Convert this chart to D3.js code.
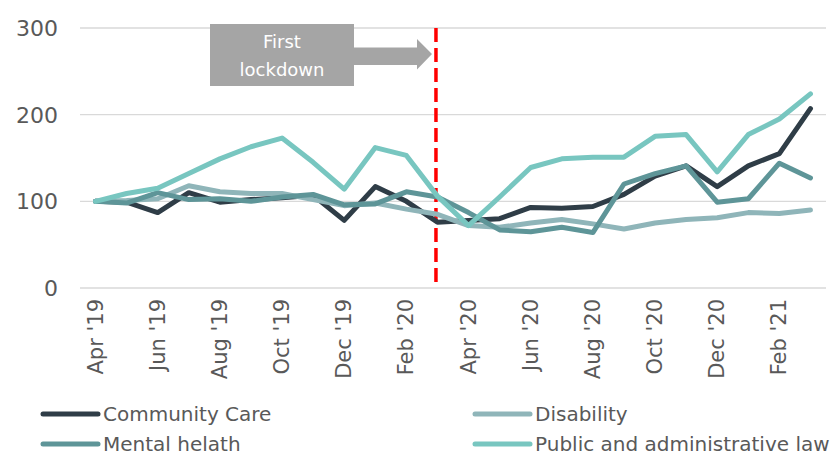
<!DOCTYPE html>
<html>
<head>
  <meta charset="utf-8">
  <script src="https://d3js.org/d3.v7.min.js"></script>
  <style>
    body { margin: 0; background: #fff; }
    text { font-family: "DejaVu Sans", sans-serif; fill: #595959; }
  </style>
</head>
<body>
  <svg width="837" height="455"></svg>
  <script>
    // months Apr '19 .. Mar '21
    var months = ["Apr '19","May '19","Jun '19","Jul '19","Aug '19","Sep '19","Oct '19","Nov '19","Dec '19","Jan '20","Feb '20","Mar '20",
                  "Apr '20","May '20","Jun '20","Jul '20","Aug '20","Sep '20","Oct '20","Nov '20","Dec '20","Jan '21","Feb '21","Mar '21"];
    var communityCare = [100, 99, 87, 110, 99, 102, 104, 107, 78, 117, 100, 76, 78, 80, 93, 92, 94, 108, 129, 141, 117, 141, 155, 207];
    var disability    = [100, 101, 103, 118, 111, 109, 109, 102, 95, 98, 91, 85, 72, 70, 75, 79, 74, 68, 75, 79, 81, 87, 86, 90];
    var mentalHealth  = [100, 98, 110, 102, 103, 100, 105, 108, 96, 97, 111, 105, 87, 67, 65, 70, 64, 120, 132, 141, 99, 103, 144, 127];
    var publicLaw     = [100, 109, 115, 132, 149, 163, 173, 145, 114, 162, 153, 106, 72, 105, 139, 149, 151, 151, 175, 177, 134, 177, 195, 224];
    var yTicks = [0, 100, 200, 300];
    var lockdownMonth = "Mar '20";

    var series = [
      { name: "Community Care", values: communityCare, color: "#2f3d47" },
      { name: "Disability", values: disability, color: "#8fb5b9" },
      { name: "Mental helath", values: mentalHealth, color: "#5e9598" },
      { name: "Public and administrative law", values: publicLaw, color: "#78c6c0" }
    ];

    var svg = d3.select("svg");
    var plotL = 80, plotR = 826, plotT = 28, plotB = 288;

    var x = d3.scaleBand().domain(months).range([plotL, plotR]);
    var cx = function(m) { return x(m) + x.bandwidth() / 2; };
    var y = d3.scaleLinear().domain([0, 300]).range([plotB, plotT]);

    // gridlines
    svg.append("g")
      .selectAll("line")
      .data(yTicks)
      .enter().append("line")
      .attr("x1", plotL).attr("x2", plotR)
      .attr("y1", function(d) { return y(d); })
      .attr("y2", function(d) { return y(d); })
      .attr("stroke", "#d9d9d9")
      .attr("stroke-width", 1.3);

    // y labels
    svg.append("g")
      .selectAll("text")
      .data(yTicks)
      .enter().append("text")
      .attr("x", 58)
      .attr("y", function(d) { return y(d) + 8; })
      .attr("text-anchor", "end")
      .style("font-size", "22px")
      .text(function(d) { return d; });

    // x labels, every second month
    svg.append("g")
      .selectAll("text")
      .data(months.filter(function(d, i) { return i % 2 === 0; }))
      .enter().append("text")
      .attr("transform", function(d) { return "translate(" + (cx(d) + 7) + ",299) rotate(-90)"; })
      .attr("text-anchor", "end")
      .style("font-size", "21px")
      .text(function(d) { return d; });

    // lockdown marker
    var lx = cx(lockdownMonth) - 1.5;
    svg.append("line")
      .attr("x1", lx).attr("x2", lx)
      .attr("y1", plotT).attr("y2", plotB)
      .attr("stroke", "#ff0000")
      .attr("stroke-width", 3.5)
      .attr("stroke-dasharray", "14,6");

    var note = svg.append("g");
    note.append("rect")
      .attr("x", 210).attr("y", 24).attr("width", 144).attr("height", 62)
      .attr("fill", "#a5a5a5");
    note.append("path")
      .attr("d", "M354,47.5 L417,47.5 L417,39 L432,54 L417,69.5 L417,65 L354,65 Z")
      .attr("fill", "#a5a5a5");
    note.append("text")
      .attr("x", 282).attr("y", 48)
      .attr("text-anchor", "middle")
      .style("font-size", "18px").style("fill", "#fff")
      .text("First");
    note.append("text")
      .attr("x", 282).attr("y", 76)
      .attr("text-anchor", "middle")
      .style("font-size", "18px").style("fill", "#fff")
      .text("lockdown");

    // lines
    var line = d3.line()
      .x(function(d, i) { return cx(months[i]); })
      .y(function(d) { return y(d); });

    svg.append("g")
      .selectAll("path")
      .data(series)
      .enter().append("path")
      .attr("d", function(d) { return line(d.values); })
      .attr("fill", "none")
      .attr("stroke", function(d) { return d.color; })
      .attr("stroke-width", 5)
      .attr("stroke-linejoin", "round")
      .attr("stroke-linecap", "round");

    // legend
    var legendPos = [[43, 414], [475, 414], [43, 444], [475, 444]];
    var legend = svg.append("g")
      .selectAll("g")
      .data(series)
      .enter().append("g")
      .attr("transform", function(d, i) { return "translate(" + legendPos[i][0] + "," + legendPos[i][1] + ")"; });
    legend.append("line")
      .attr("x1", 0).attr("x2", 55)
      .attr("stroke", function(d) { return d.color; })
      .attr("stroke-width", 5)
      .attr("stroke-linecap", "round");
    legend.append("text")
      .attr("x", 60).attr("y", 7)
      .style("font-size", "20px")
      .text(function(d) { return d.name; });
  </script>
</body>
</html>
